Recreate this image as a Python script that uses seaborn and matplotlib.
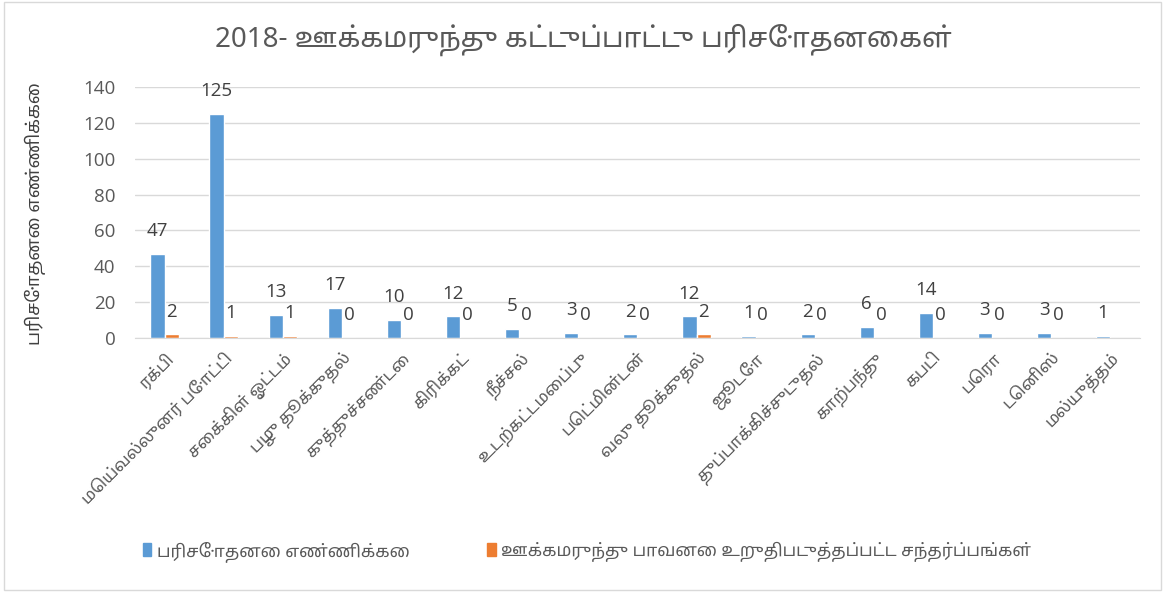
import matplotlib
matplotlib.use("Agg")
import numpy as np
import pandas as pd
import matplotlib.pyplot as plt
import seaborn as sns
from matplotlib.patches import Rectangle, Patch

sports = [
    "ரக்பி", "மெய்வல்லுனர் போட்டி", "சைக்கிள் ஓட்டம்", "பழு தூக்குதல்",
    "குத்துச்சண்டை", "கிரிக்கட்", "நீச்சல்", "உடற்கட்டமைப்பு", "பெட்மின்டன்",
    "வலு தூக்குதல்", "ஜூடோ", "துப்பாக்கிச்சுடுதல்", "காற்பந்து", "கபடி",
    "பெரா", "டெனிஸ்", "மல்யுத்தம்",
]
tests = [47, 125, 13, 17, 10, 12, 5, 3, 2, 12, 1, 2, 6, 14, 3, 3, 1]
positives = [2, 1, 1, 0, 0, 0, 0, 0, 0, 2, 0, 0, 0, 0, 0, 0, np.nan]

series_names = ["பரிசோதனை எண்ணிக்கை", "ஊக்கமருந்து பாவனை உறுதிபடுத்தப்பட்ட சந்தர்ப்பங்கள்"]
title = "2018- ஊக்கமருந்து கட்டுப்பாட்டு பரிசோதனைகள்"
ylabel = "பரிசோதனை எண்ணிக்கை"

df = pd.DataFrame({
    "sport": sports * 2,
    "value": tests + positives,
    "series": [series_names[0]] * len(sports) + [series_names[1]] * len(sports),
})

sns.set_style("white")
tamil = ["Noto Sans Tamil", "DejaVu Sans"]
plt.rcParams["font.family"] = tamil

colors = ["#5B9BD5", "#ED7D31"]
fig = plt.figure(figsize=(11.67, 5.94), dpi=100)
ax = fig.add_axes([0.1157, 0.431, 0.861, 0.4225])

sns.barplot(
    data=df, x="sport", y="value", hue="series", hue_order=series_names,
    palette=colors, width=0.48, gap=0, saturation=1, ax=ax, legend=False,
)

ax.set_ylim(0, 140)
ax.set_yticks(range(0, 141, 20))
ax.yaxis.grid(True, color="#D9D9D9", linewidth=1)
ax.set_axisbelow(True)
for s in ["top", "right", "left"]:
    ax.spines[s].set_visible(False)
ax.spines["bottom"].set_color("#D9D9D9")
ax.tick_params(axis="both", length=0, colors="#595959")
ax.tick_params(axis="y", pad=14)
ax.tick_params(axis="x", pad=8)
for t in ax.get_yticklabels():
    t.set_fontfamily("Open Sans")
    t.set_fontsize(13.5)
ax.set_xlabel("")
ax.set_ylabel("")
ax.set_xticks(range(len(sports)))
ax.set_xticklabels(sports, rotation=45, ha="right", rotation_mode="anchor",
                   fontsize=12, color="#595959")

# value labels, one per drawn bar
for cont, vals in zip(ax.containers, [tests, positives]):
    shown = [v for v in vals if not np.isnan(v)]
    bars = [b for b in cont if b is not None]
    for bar, v in zip(bars, shown):
        ax.annotate("%d" % v, (bar.get_x() + bar.get_width() / 2, bar.get_height()),
                    xytext=(0, 10), textcoords="offset points", ha="center",
                    va="bottom", fontsize=13.5, color="#404040", family="Open Sans")

fig.text(0.5, 0.933, title, ha="center", va="center", fontsize=20,
         color="#595959")
fig.text(0.03, 0.64, ylabel, rotation=90, ha="center", va="center",
         fontsize=13, fontweight="bold", color="#404040")

handles = [Patch(color=c) for c in colors]
leg = fig.legend(handles, series_names, loc="center", bbox_to_anchor=(0.503, 0.072),
                 ncol=2, frameon=False, handlelength=0.5, handleheight=0.8,
                 handletextpad=0.3, columnspacing=4.5, fontsize=12.5)
for t in leg.get_texts():
    t.set_color("#595959")

fig.patches.append(Rectangle((0.003, 0.006), 0.992, 0.99, transform=fig.transFigure,
                             fill=False, edgecolor="#D9D9D9", linewidth=1))

fig.savefig("out.png", dpi=100)
